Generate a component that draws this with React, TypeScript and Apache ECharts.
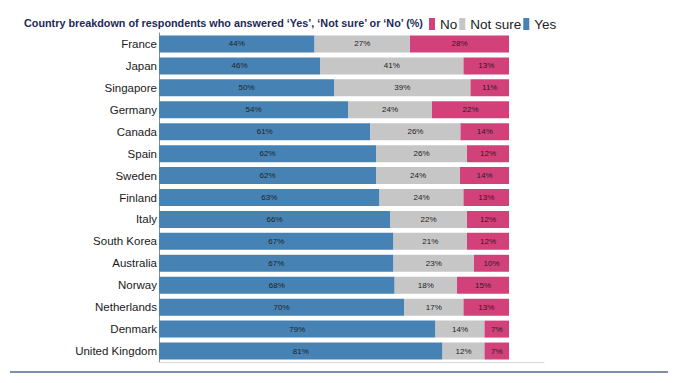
import React, { useEffect, useRef } from "react";
import * as echarts from "echarts";

const countries = [
  "France", "Japan", "Singapore", "Germany", "Canada", "Spain", "Sweden", "Finland",
  "Italy", "South Korea", "Australia", "Norway", "Netherlands", "Denmark", "United Kingdom",
];
const yesValues = [44, 46, 50, 54, 61, 62, 62, 63, 66, 67, 67, 68, 70, 79, 81];
const notSureValues = [27, 41, 39, 24, 26, 26, 24, 24, 22, 21, 23, 18, 17, 14, 12];
const noValues = [28, 13, 11, 22, 14, 12, 14, 13, 12, 12, 10, 15, 13, 7, 7];

const titleText = "Country breakdown of respondents who answered \u2018Yes\u2019, \u2018Not sure\u2019 or \u2018No\u2019 (%)";

export default function App() {
  const ref = useRef<HTMLDivElement>(null);
  useEffect(() => {
    if (!ref.current) return;
    const chart = echarts.init(ref.current, null, { renderer: "svg" });
    const totals = countries.map((_, i) => yesValues[i] + notSureValues[i] + noValues[i]);
    const labelCfg = {
      show: true,
      position: "inside",
      formatter: (p: any) => `${p.data.shown}%`,
      fontSize: 8,
      color: "#222",
      fontFamily: "Liberation Sans, Arial, sans-serif",
    };
    const mk = (name: string, data: number[], color: string) => ({
      name,
      type: "bar",
      stack: "total",
      data: data.map((v, i) => ({ value: (v / totals[i]) * 100, shown: v })),
      barWidth: 17,
      itemStyle: { color },
      label: labelCfg,
      emphasis: { disabled: true },
    });
    chart.setOption({
      animation: false,
      title: {
        text: titleText,
        left: 19,
        top: 12,
        textStyle: {
          fontSize: 10.8,
          fontWeight: "bold",
          color: "#1d2a57",
          fontFamily: "Liberation Sans, Arial, sans-serif",
        },
      },
      legend: {
        data: ["No", "Not sure", "Yes"],
        left: 424,
        top: 12,
        itemWidth: 6,
        itemHeight: 12,
        itemGap: 2,
        icon: "rect",
        textStyle: {
          fontSize: 13.5,
          color: "#222",
          fontFamily: "Liberation Sans, Arial, sans-serif",
        },
      },
      grid: { left: 159, top: 33, width: 385, height: 329, containLabel: false },
      xAxis: {
        type: "value",
        min: 0,
        max: 110,
        axisLabel: { show: false },
        axisTick: { show: false },
        splitLine: { show: false },
        axisLine: { show: true, lineStyle: { color: "#d6d6d6", width: 1 } },
      },
      yAxis: {
        type: "category",
        inverse: true,
        data: countries,
        axisTick: { show: false },
        axisLine: { show: true, lineStyle: { color: "#8c8c8c", width: 1 } },
        axisLabel: {
          fontSize: 11.5,
          color: "#1a1a1a",
          margin: 2,
          fontFamily: "Liberation Sans, Arial, sans-serif",
        },
      },
      graphic: [
        {
          type: "rect",
          shape: { x: 10, y: 371, width: 658, height: 2 },
          style: { fill: "#7d90a8" },
        },
      ],
      series: [
        mk("Yes", yesValues, "#4682b4"),
        mk("Not sure", notSureValues, "#c6c6c6"),
        mk("No", noValues, "#d3417a"),
      ],
    });
    return () => chart.dispose();
  }, []);
  return (
    <div
      ref={ref}
      style={{ position: "absolute", left: 0, top: 0, width: 675, height: 383 }}
    />
  );
}
